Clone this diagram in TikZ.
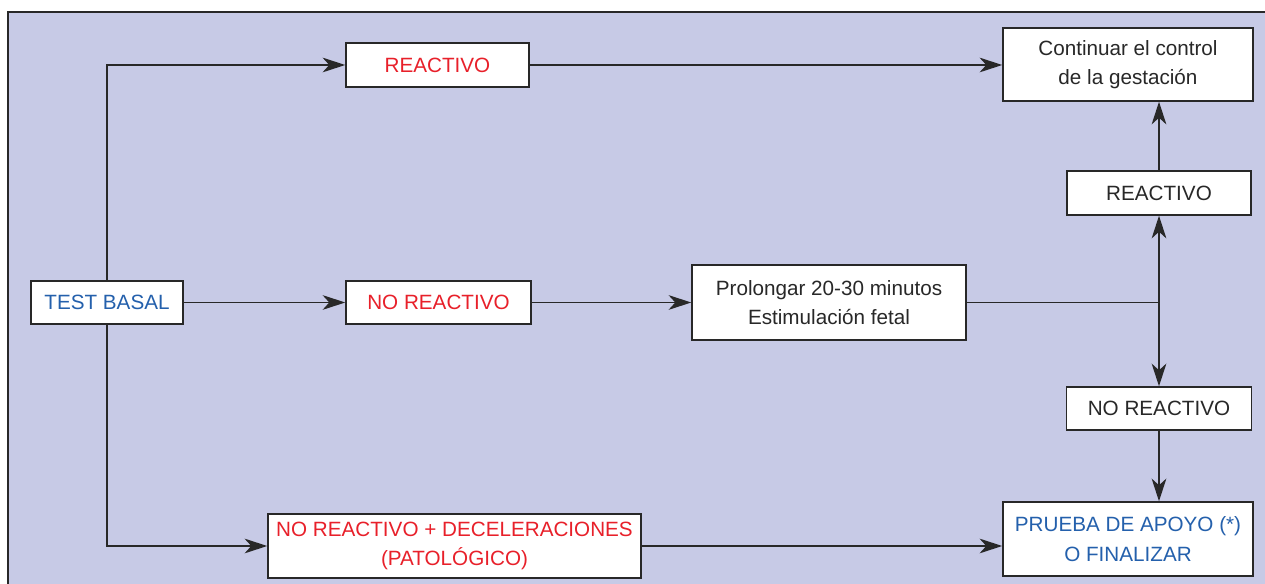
\documentclass[tikz,border=0pt]{standalone}
\usepackage{fontspec}
\setmainfont{Liberation Sans}
\usetikzlibrary{arrows.meta}
\definecolor{bgfill}{RGB}{199,202,230}
\definecolor{red}{RGB}{232,32,42}
\definecolor{blue}{RGB}{36,96,172}
\definecolor{ink}{RGB}{40,40,40}

\begin{document}
\begin{tikzpicture}[x=0.75pt, y=-0.75pt,
    box/.style={draw=ink, fill=white, line width=1.1pt, align=center, inner sep=0pt,
        font=\fontsize{15.5}{22}\selectfont, text=ink},
    arr/.style={draw=ink, line width=1.1pt, -{Stealth[length=17pt,width=11pt,inset=5pt]}}]
    \useasboundingbox (0,0) rectangle (1265,584);
    \fill[bgfill] (8,12) rectangle (1265,584);
    \draw[ink, line width=1.1pt] (8,584) -- (8,12) -- (1265,12);

    % left column
    \node[box, text=blue, minimum width=114pt, minimum height=32.25pt] (basal) at (107,302.5) {TEST BASAL};

    % results of the basal test
    \node[box, text=red, minimum width=137.25pt, minimum height=33pt] (reac) at (437.5,65) {REACTIVO};
    \node[box, text=red, minimum width=138.75pt, minimum height=32.25pt] (noreac) at (438.5,302.5) {NO REACTIVO};
    \node[box, text=red, minimum width=279.75pt, minimum height=48pt] (patol) at (454.5,546) {NO REACTIVO + DECELERACIONES\\(PATOLÓGICO)};
    \node[box, minimum width=205.5pt, minimum height=56.25pt] (prolong) at (829,302.5) {Prolongar 20-30 minutos\\Estimulación fetal};

    % right column
    \node[box, minimum width=187.5pt, minimum height=54.75pt] (cont) at (1128,64.5) {Continuar el control\\de la gestación};
    \node[box, minimum width=138pt, minimum height=33pt] (reacb) at (1159,193) {REACTIVO};
    \node[box, minimum width=138.75pt, minimum height=32.25pt] (noreacb) at (1159,408.5) {NO REACTIVO};
    \node[box, text=blue, minimum width=187.5pt, minimum height=55.5pt] (prueba) at (1128,539) {PRUEBA DE APOYO (*)\\O FINALIZAR};
    \coordinate (j) at (1159,302.5);

    \draw[arr] (basal.north) |- (reac.west);
    \draw[arr] (basal.east) -- (noreac.west);
    \draw[arr] (basal.south) |- (patol.west);
    \draw[arr] (reac.east) -- (reac.east -| cont.west);
    \draw[arr] (noreac.east) -- (prolong.west);
    \draw[arr] (patol.east) -- (patol.east -| prueba.west);
    \draw[ink, line width=1.1pt] (prolong.east) -- (j);
    \draw[arr] (j) -- (reacb.south);
    \draw[arr] (j) -- (noreacb.north);
    \draw[arr] (reacb.north) -- (reacb.north |- cont.south);
    \draw[arr] (noreacb.south) -- (noreacb.south |- prueba.north);
\end{tikzpicture}
\end{document}
